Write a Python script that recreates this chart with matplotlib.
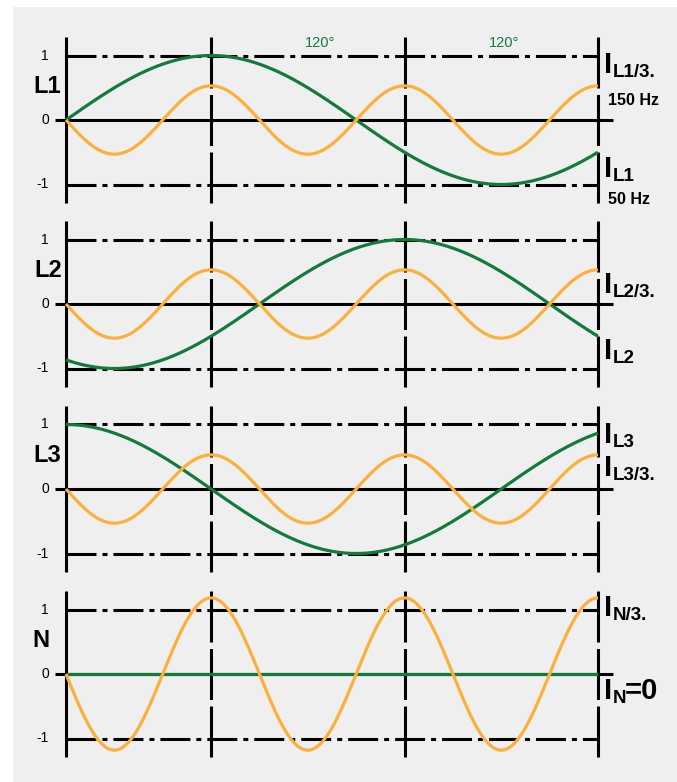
import numpy as np
import matplotlib
matplotlib.use('Agg')
import matplotlib.pyplot as plt
from matplotlib.patches import Rectangle

plt.rcParams['font.family'] = ['Liberation Sans', 'DejaVu Sans']
plt.rcParams['lines.scale_dashes'] = False
plt.rcParams['lines.solid_capstyle'] = 'butt'
plt.rcParams['lines.dash_capstyle'] = 'butt'

# --- chart data ---
phase_names = ['L1', 'L2', 'L3', 'N']
fund_amp = [1.0, 1.0, 1.0, 0.0]          # 50 Hz amplitude per panel
fund_shift = [0, -120, 90, 0]            # 50 Hz phase shift (deg)
third_amp = [0.53, 0.53, 0.53, 1.18]     # 150 Hz amplitude per panel
grid_deg = [90, 210, 330]
ytick_vals = [1, 0, -1]
span_text = ['120°', '120°']
span_deg = [157.5, 272]
right_sub = [['L1/3.', 'L1'], ['L2/3.', 'L2'], ['L3', 'L3/3.'], ['N/3.', 'N']]
right_tail = [['', ''], ['', ''], ['', ''], ['', '=0']]
freq_text = ['150 Hz', '50 Hz']

# --- layout / style ---
GREEN = '#127a3a'
ORANGE = '#fbb03b'
BG = '#efefef'
PX_DEG = 1.612      # pixels per degree
PX_UNIT = 64.5      # pixels per unit
W, H = 677, 782
zero_px = [120, 304, 489, 674]
right_y = [[0.73, -0.88], [0.17, -0.85], [0.71, 0.20], [0.90, -0.39]]
freq_y = [0.23, -1.30]
name_x = [-11.5, -11.0, -11.5, -15.8]
XL = (-25, 375)
YL = (-1.45, 1.45)


def deg(px):
    return (px - 66) / PX_DEG


fig = plt.figure(figsize=(W / 100, H / 100), dpi=100)
fig.patch.set_facecolor('white')
fig.add_artist(Rectangle((13 / W, 0), 1 - 13 / W, 1 - 7 / H,
                         transform=fig.transFigure, facecolor=BG,
                         edgecolor='none', zorder=-10))

theta = np.linspace(0, 330, 600)
left = (66 + XL[0] * PX_DEG) / W
width = (XL[1] - XL[0]) * PX_DEG / W
height = (YL[1] - YL[0]) * PX_UNIT / H

for i, name in enumerate(phase_names):
    bottom = 1 - (zero_px[i] - YL[0] * PX_UNIT) / H
    ax = fig.add_axes([left, bottom, width, height])
    ax.set_xlim(XL)
    ax.set_ylim(YL)
    ax.axis('off')
    ax.patch.set_alpha(0)

    # frame lines
    ax.plot([0, 0], [-1.29, 1.29], color='k', lw=2.2, clip_on=False)
    for g in grid_deg:
        ax.plot([g, g], [-1.29, 1.29], color='k', lw=2.2,
                ls=(0, (36.7, 4.7)), clip_on=False)
    ax.plot([deg(55), deg(613)], [0, 0], color='k', lw=2.2, clip_on=False)
    for yv in (1, -1):
        ax.plot([0, 330], [yv, yv], color='k', lw=2.2,
                ls=(0, (21.6, 4.3, 3.6, 4.3)), clip_on=False)

    # curves
    green = fund_amp[i] * np.sin(np.radians(theta + fund_shift[i]))
    orange = third_amp[i] * np.sin(np.radians(3 * theta + 180))
    ax.plot(theta, green, color=GREEN, lw=2.3, zorder=3, clip_on=False)
    ax.plot(theta, orange, color=ORANGE, lw=2.3, zorder=4, clip_on=False)

    # left labels
    for v in ytick_vals:
        ax.text(deg(49), v, str(v), ha='right', va='center', fontsize=10)
    ax.text(name_x[i], 0.52, name, ha='center', va='center',
            fontsize=17, fontweight='bold')

    # right labels
    for k in range(2):
        yb = right_y[i][k]
        ax.text(deg(604), yb, 'I', ha='left', va='baseline',
                fontsize=21, fontweight='bold')
        ax.text(deg(613), yb - 0.06, right_sub[i][k], ha='left',
                va='baseline', fontsize=13.5, fontweight='bold')
        if right_tail[i][k]:
            ax.text(deg(625), yb, right_tail[i][k], ha='left',
                    va='baseline', fontsize=21, fontweight='bold')

    if i == 0:
        for t, x in zip(span_text, span_deg):
            ax.text(x, 1.13, t, color=GREEN, ha='center', va='baseline',
                    fontsize=10.5)
        for t, yb in zip(freq_text, freq_y):
            ax.text(deg(608), yb, t, ha='left', va='baseline',
                    fontsize=11.5, fontweight='bold')

fig.savefig('out.png', dpi=100, facecolor=fig.get_facecolor())
